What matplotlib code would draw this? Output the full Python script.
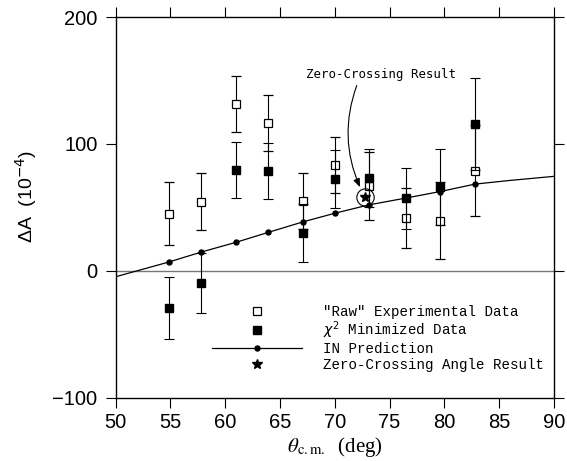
import matplotlib

matplotlib.use("Agg")
import matplotlib.pyplot as plt
from matplotlib.lines import Line2D

# scattering angle columns (deg)
angles = [54.85, 57.83, 60.97, 63.94, 67.08, 70.03, 73.1, 76.48, 79.6, 82.8]
# "raw" experimental asymmetry (1e-4) and errors
raw = [45.0, 54.4, 131.3, 116.4, 55.0, 83.5, 67.0, 41.7, 39.7, 78.9]
raw_err = [24.7, 22.4, 22.0, 22.0, 22.0, 22.3, 27.0, 24.0, 30.0, 36.0]
# chi^2 minimized data
chi2 = [-29.5, -9.5, 79.2, 78.9, 30.0, 72.5, 73.0, 57.1, 66.0, 115.6]
chi2_err = [24.5, 23.5, 22.0, 22.0, 23.0, 22.8, 23.0, 24.0, 30.0, 36.0]
# IN prediction, points at the measured angles
in_pred = [7.0, 14.9, 22.5, 30.4, 38.6, 45.5, 52.0, 57.4, 62.5, 68.4]
# IN prediction curve
curve_x = [50.0, 54.85, 57.83, 60.97, 63.94, 67.08, 70.03, 73.1, 76.48, 79.6, 82.8, 86.0, 90.0]
curve_y = [-4.6, 7.0, 14.9, 22.5, 30.4, 38.6, 45.5, 52.0, 57.4, 62.5, 68.4, 71.3, 74.5]
# zero-crossing angle result
zc_angle = 72.8
zc_value = 58.0

xticks = [50, 55, 60, 65, 70, 75, 80, 85, 90]
yticks = [-100, 0, 100, 200]

fig = plt.figure(figsize=(5.67, 4.61), dpi=100)
ax = fig.add_axes([0.204, 0.137, 0.773, 0.826])

ax.axhline(0, color="#777777", lw=1.0, zorder=1)
ax.plot(curve_x, curve_y, color="black", lw=0.9, zorder=2)
ax.plot(angles, in_pred, "o", color="black", ms=3.6, zorder=3)

ax.errorbar(angles, raw, yerr=raw_err, fmt="s", ms=5.4, mfc="white", mec="black",
            mew=0.9, ecolor="black", elinewidth=0.8, capsize=3.6, capthick=0.8, zorder=4)
ax.errorbar(angles, chi2, yerr=chi2_err, fmt="s", ms=6.0, mfc="black", mec="black",
            ecolor="black", elinewidth=0.8, capsize=3.6, capthick=0.8, zorder=5)

ax.plot([zc_angle], [zc_value], "*", color="black", ms=7, zorder=6)
ax.plot([zc_angle], [zc_value], "o", mfc="none", mec="black", mew=0.8, ms=12.5, zorder=6)

ax.text(74.2, 154.5, "Zero-Crossing Result", ha="center", va="center",
        family="DejaVu Sans Mono", fontsize=8.9)
ax.annotate("", xy=(72.3, 66), xytext=(72.0, 146),
            arrowprops=dict(arrowstyle="-|>,head_length=0.5,head_width=0.2", color="black",
                            lw=0.8, shrinkA=0, shrinkB=0,
                            connectionstyle="arc3,rad=0.2"))

ax.set_xlim(50, 90)
ax.set_ylim(-100, 200)
ax.set_xticks(xticks)
ax.set_yticks(yticks)
ax.tick_params(direction="out", length=7, width=0.8, top=True, right=True,
               labelsize=14.5, pad=4)
ax.tick_params(axis="y", pad=6)
for lab in ax.get_xticklabels() + ax.get_yticklabels():
  lab.set_family("Liberation Sans")
for sp in ax.spines.values():
  sp.set_linewidth(1.0)

ax.set_ylabel("ΔA  (10$^{-4}$)", family="Liberation Sans", fontsize=14,
              math_fontfamily="dejavusans")
ax.yaxis.set_label_coords(-0.175, 0.53)
ax.set_xlabel(r"$\theta_{\mathrm{c.m.}}$  (deg)", family="Liberation Serif", fontsize=15,
              math_fontfamily="stix", labelpad=2)

handles = [
    Line2D([], [], ls="none", marker="s", ms=5.4, mfc="white", mec="black", mew=0.9),
    Line2D([], [], ls="none", marker="s", ms=6.0, mfc="black", mec="black"),
    Line2D([], [], color="black", lw=0.9, marker="o", ms=3.6),
    Line2D([], [], ls="none", marker="*", ms=7, color="black"),
]
labels = ['"Raw" Experimental Data', r"$\chi^2$ Minimized Data", "IN Prediction",
          "Zero-Crossing Angle Result"]
ax.legend(handles, labels, loc="upper left", bbox_to_anchor=(0.219, 0.245),
          frameon=False, prop={"family": "Liberation Mono", "size": 10.2},
          handlelength=6.4, handletextpad=1.45, labelspacing=0.08,
          borderpad=0, borderaxespad=0, numpoints=1)

fig.savefig("out.png", dpi=100)
